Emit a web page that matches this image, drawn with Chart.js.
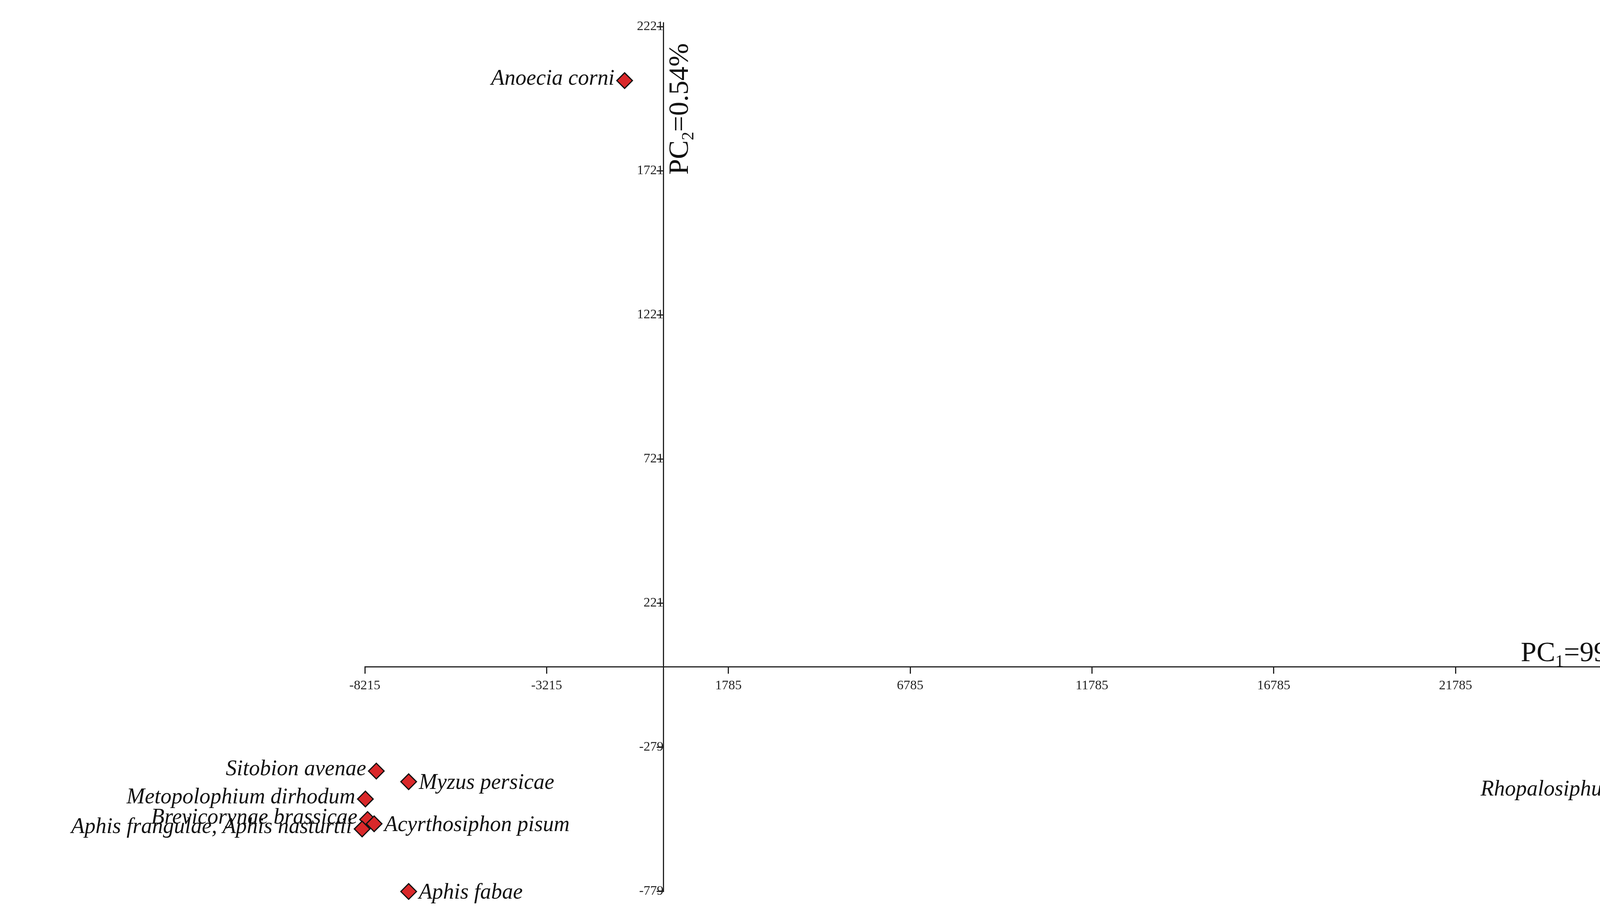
<!DOCTYPE html>
<html>
<head>
<meta charset="utf-8">
<script src="https://cdn.jsdelivr.net/npm/chart.js@4.4.1/dist/chart.umd.min.js"></script>
<style>
  html, body { margin: 0; padding: 0; background: #fff; overflow: hidden; }
  canvas { display: block; }
</style>
</head>
<body>
<canvas id="pca" width="4332" height="2348" style="width:4332px;height:2348px"></canvas>
<script>
const species = [
  'Anoecia corni', 'Sitobion avenae', 'Myzus persicae', 'Metopolophium dirhodum',
  'Brevicorynae brassicae', 'Acyrthosiphon pisum', 'Aphis frangulae, Aphis nasturtii',
  'Aphis fabae', 'Rhopalosiphum padi',
];
const pc1 = [-1070, -7900, -7010, -8200, -8140, -7960, -8290, -7010, 27750];
const pc2 = [2034, -362, -399, -459, -530, -545, -563, -780, -433];
const labelSide = ['left', 'left', 'right', 'left', 'left', 'right', 'left', 'right', 'left'];
const xTicks = [-8215, -3215, 1785, 6785, 11785, 16785, 21785, 26785];
const yTicks = [-779, -279, 221, 721, 1221, 1721, 2221];

const FONT = '"Liberation Serif", "DejaVu Serif", serif';

const drawSubTitle = (ctx, x, y, align, base, sub, rest) => {
  ctx.font = `72px ${FONT}`;
  const w1 = ctx.measureText(base).width;
  const w3 = ctx.measureText(rest).width;
  ctx.font = `44px ${FONT}`;
  const w2 = ctx.measureText(sub).width;
  const total = w1 + w2 + w3;
  const start = align === 'right' ? x - total : x;
  ctx.textAlign = 'left';
  ctx.textBaseline = 'alphabetic';
  ctx.font = `72px ${FONT}`;
  ctx.fillText(base, start, y);
  ctx.font = `44px ${FONT}`;
  ctx.fillText(sub, start + w1, y + 14);
  ctx.font = `72px ${FONT}`;
  ctx.fillText(rest, start + w1 + w2, y);
};

const annotations = {
  id: 'annotations',
  afterDatasetsDraw(chart) {
    const { ctx, scales: { x, y } } = chart;
    ctx.save();
    ctx.fillStyle = '#111';
    ctx.font = `italic 56px ${FONT}`;
    ctx.textBaseline = 'middle';
    species.forEach((name, i) => {
      const px = x.getPixelForValue(pc1[i]);
      const py = y.getPixelForValue(pc2[i]);
      if (labelSide[i] === 'left') {
        ctx.textAlign = 'right';
        ctx.fillText(name, px - 26, py - 4);
      } else {
        ctx.textAlign = 'left';
        ctx.fillText(name, px + 26, py + 4);
      }
    });
    drawSubTitle(ctx, x.right - 20, y.getPixelForValue(0) - 14, 'right', 'PC', '1', '=99.41%');
    ctx.translate(x.getPixelForValue(0) + 62, y.getPixelForValue(1721) + 10);
    ctx.rotate(-Math.PI / 2);
    drawSubTitle(ctx, 0, 0, 'left', 'PC', '2', '=0.54%');
    ctx.restore();
  },
};

const axisCommon = {
  grid: { display: true, drawOnChartArea: false, drawTicks: true, tickLength: 16, color: '#222', lineWidth: 3 },
  border: { display: true, color: '#222', width: 3 },
  ticks: { color: '#222', font: { family: FONT, size: 34 }, autoSkip: false, maxRotation: 0 },
};

new Chart(document.getElementById('pca'), {
  type: 'scatter',
  data: {
    datasets: [{
      data: pc1.map((v, i) => ({ x: v, y: pc2[i] })),
      pointStyle: 'rectRot',
      pointRadius: 20,
      backgroundColor: '#d9282a',
      borderColor: '#111',
      borderWidth: 3,
      clip: false,
    }],
  },
  options: {
    responsive: false,
    devicePixelRatio: 1,
    animation: false,
    layout: { padding: { left: 934, right: 46, top: 58, bottom: 66 } },
    plugins: { legend: { display: false }, tooltip: { enabled: false } },
    scales: {
      x: {
        ...axisCommon,
        type: 'linear',
        position: { y: 0 },
        min: -8215,
        max: 27800,
        afterBuildTicks: (scale) => { scale.ticks = xTicks.map((v) => ({ value: v })); },
        ticks: { ...axisCommon.ticks, padding: 12, callback: (v) => String(v) },
      },
      y: {
        ...axisCommon,
        type: 'linear',
        position: { x: 0 },
        min: -779,
        max: 2235,
        afterBuildTicks: (scale) => { scale.ticks = yTicks.map((v) => ({ value: v })); },
        ticks: { ...axisCommon.ticks, padding: 14, callback: (v) => String(v) },
      },
    },
  },
  plugins: [annotations],
});
</script>
</body>
</html>
